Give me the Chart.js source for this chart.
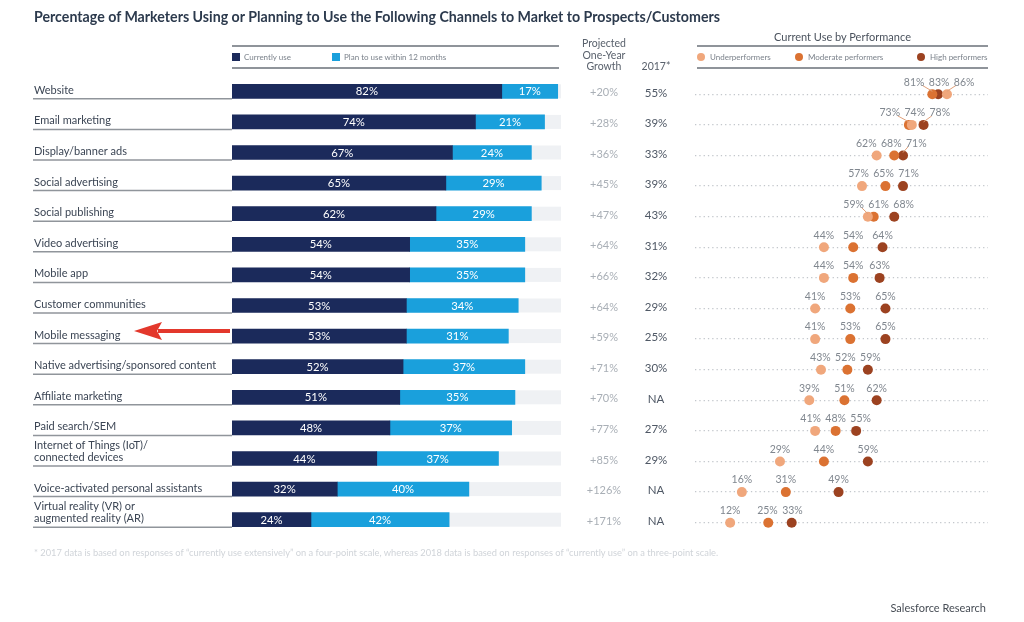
<!DOCTYPE html>
<html>
<head>
<meta charset="utf-8">
<script src="https://cdn.jsdelivr.net/npm/chart.js@4.4.1/dist/chart.umd.min.js"></script>
<style>
  body { margin: 0; background: #fff; font-family: Lato, "Open Sans", sans-serif; }
  #wrap { position: relative; width: 1024px; height: 622px; overflow: hidden; }
  canvas { position: absolute; left: 0; top: 0; }
  .abs { position: absolute; white-space: nowrap; }
  .title { left: 34px; top: 8px; font-size: 14.2px; font-weight: bold; color: #2c3a4d; }
  .rule { position: absolute; height: 2px; background: #8f949a; }
  .leg { font-size: 8px; color: #7b828b; line-height: 10px; }
  .sq { display: inline-block; width: 8px; height: 8px; vertical-align: -1px; margin-right: 4px; }
  .dot { display: inline-block; width: 8px; height: 8px; border-radius: 50%; vertical-align: -1px; margin-right: 5px; }
  .colhead { font-size: 10.5px; color: #59616c; text-align: center; line-height: 11.5px; }
  .note { left: 34px; top: 547px; font-size: 9.3px; color: #d0d4d9; }
  .source { right: 38px; top: 601px; font-size: 11px; color: #474d55; }
</style>
</head>
<body>
<div id="wrap">
  <canvas id="bars" width="1024" height="622"></canvas>
  <canvas id="dots" width="1024" height="622"></canvas>

  <div class="abs title">Percentage of Marketers Using or Planning to Use the Following Channels to Market to Prospects/Customers</div>

  <div class="rule" style="left:232px;top:45px;width:327px"></div>
  <div class="abs leg" style="left:232px;top:52px"><span class="sq" style="background:#1b2a5b"></span>Currently use</div>
  <div class="abs leg" style="left:332px;top:52px"><span class="sq" style="background:#1aa0dc"></span>Plan to use within 12 months</div>
  <div class="rule" style="left:232px;top:67px;width:327px"></div>

  <div class="abs colhead" style="left:574px;top:38px;width:60px">Projected<br>One-Year<br>Growth</div>
  <div class="abs colhead" style="left:630px;top:61px;width:52px">2017*</div>

  <div class="abs" style="left:697px;top:30px;width:291px;text-align:center;font-size:11px;color:#4a525d">Current Use by Performance</div>
  <div class="rule" style="left:697px;top:45px;width:291px"></div>
  <div class="abs leg" style="left:697px;top:52px"><span class="dot" style="background:#f0a77c"></span>Underperformers</div>
  <div class="abs leg" style="left:795px;top:52px"><span class="dot" style="background:#db7232"></span>Moderate performers</div>
  <div class="abs leg" style="left:917px;top:52px"><span class="dot" style="background:#9c4220"></span>High performers</div>
  <div class="rule" style="left:697px;top:67px;width:291px"></div>

  <div class="abs note">* 2017 data is based on responses of “currently use extensively” on a four-point scale, whereas 2018 data is based on responses of “currently use” on a three-point scale.</div>
  <div class="abs source">Salesforce Research</div>
</div>

<script>
// channels, top to bottom
const categories = [
    "Website", "Email marketing", "Display/banner ads", "Social advertising", "Social publishing",
    "Video advertising", "Mobile app", "Customer communities", "Mobile messaging",
    "Native advertising/sponsored content", "Affiliate marketing", "Paid search/SEM",
    "Internet of Things (IoT)/\nconnected devices", "Voice-activated personal assistants",
    "Virtual reality (VR) or\naugmented reality (AR)"
];
const currentUse = [82, 74, 67, 65, 62, 54, 54, 53, 53, 52, 51, 48, 44, 32, 24];
const planToUse = [17, 21, 24, 29, 29, 35, 35, 34, 31, 37, 35, 37, 37, 40, 42];
const projectedGrowth = [20, 28, 36, 45, 47, 64, 66, 64, 59, 71, 70, 77, 85, 126, 171];
const use2017 = [55, 39, 33, 39, 43, 31, 32, 29, 25, 30, null, 27, 29, null, null];

// current use by performance
const underperformers = [86, 74, 62, 57, 59, 44, 44, 41, 41, 43, 39, 41, 29, 16, 12];
const moderatePerformers = [81, 73, 68, 65, 61, 54, 54, 53, 53, 52, 51, 48, 44, 31, 25];
const highPerformers = [83, 78, 71, 71, 68, 64, 63, 65, 65, 59, 62, 55, 59, 49, 33];

const highlighted = "Mobile messaging";
const FONT = "Lato, 'Open Sans', sans-serif";

// --- bar part: track, value labels, row labels, growth and 2017 columns, arrow
const barExtras = {
    id: "barExtras",
    beforeDatasetsDraw(chart) {
        const ctx = chart.ctx, x = chart.scales.x, y = chart.scales.y;
        ctx.save();
        ctx.fillStyle = "#eff1f4";
        categories.forEach((c, i) => {
            const cy = y.getPixelForValue(i);
            ctx.fillRect(x.getPixelForValue(0), cy - 7, x.getPixelForValue(100) - x.getPixelForValue(0), 14);
        });
        ctx.restore();
    },
    afterDatasetsDraw(chart) {
        const ctx = chart.ctx, y = chart.scales.y, x = chart.scales.x;
        ctx.save();

        // values inside the bars
        ctx.font = "11.3px " + FONT;
        ctx.fillStyle = "#ffffff";
        ctx.textAlign = "center";
        ctx.textBaseline = "middle";
        [0, 1].forEach(d => {
            chart.getDatasetMeta(d).data.forEach((bar, i) => {
                const v = chart.data.datasets[d].data[i];
                ctx.fillText(v + "%", (bar.x + bar.base) / 2, bar.y + 0.5);
            });
        });

        categories.forEach((c, i) => {
            const cy = y.getPixelForValue(i);

            // row label with underline
            const lines = c.split("\n");
            ctx.font = "11px " + FONT;
            ctx.fillStyle = "#3b4554";
            ctx.textAlign = "left";
            lines.forEach((t, k) => {
                ctx.fillText(t, 34, cy - 1 - (lines.length - 1 - k) * 12);
            });
            ctx.strokeStyle = "#90959b";
            ctx.lineWidth = 1.5;
            ctx.beginPath();
            ctx.moveTo(33, cy + 7.5);
            ctx.lineTo(x.getPixelForValue(0), cy + 7.5);
            ctx.stroke();

            // projected growth and 2017
            ctx.textAlign = "center";
            ctx.font = "11px " + FONT;
            ctx.fillStyle = "#a9afb6";
            ctx.fillText("+" + projectedGrowth[i] + "%", 604, cy + 1.5);
            ctx.font = "11.5px " + FONT;
            ctx.fillStyle = "#4f5865";
            ctx.fillText(use2017[i] === null ? "NA" : use2017[i] + "%", 656, cy + 1.5);
        });

        // red arrow pointing at the highlighted row
        const ay = y.getPixelForValue(categories.indexOf(highlighted)) - 5;
        const tail = x.getPixelForValue(0) - 2;
        ctx.strokeStyle = "#e3382c";
        ctx.fillStyle = "#e3382c";
        ctx.lineWidth = 4;
        ctx.beginPath();
        ctx.moveTo(tail, ay);
        ctx.lineTo(158, ay);
        ctx.stroke();
        ctx.beginPath();
        ctx.moveTo(134, ay);
        ctx.lineTo(162, ay - 9);
        ctx.lineTo(157, ay);
        ctx.lineTo(162, ay + 9);
        ctx.closePath();
        ctx.fill();

        ctx.restore();
    }
};

new Chart(document.getElementById("bars"), {
    type: "bar",
    data: {
        labels: categories,
        datasets: [
            { label: "Currently use", data: currentUse, backgroundColor: "#1b2a5b", barThickness: 14 },
            { label: "Plan to use within 12 months", data: planToUse, backgroundColor: "#1aa0dc", barThickness: 14 }
        ]
    },
    options: {
        indexAxis: "y",
        responsive: false,
        animation: false,
        events: [],
        layout: { padding: { left: 232, right: 463, top: 76, bottom: 87 } },
        scales: {
            x: { display: false, stacked: true, min: 0, max: 100 },
            y: { display: false, stacked: true }
        },
        plugins: { legend: { display: false }, tooltip: { enabled: false } }
    },
    plugins: [barExtras]
});

// --- dot part: value labels above the dots, pushed apart when they collide
const dotLabels = {
    id: "dotLabels",
    afterDatasetsDraw(chart) {
        const ctx = chart.ctx;
        ctx.save();
        ctx.font = "10.5px " + FONT;
        ctx.fillStyle = "#80878f";
        ctx.strokeStyle = "#e0a07a";
        ctx.lineWidth = 1;
        ctx.textAlign = "center";
        ctx.textBaseline = "middle";
        categories.forEach((c, i) => {
            const pts = chart.data.datasets.map((ds, d) => {
                const el = chart.getDatasetMeta(d).data[i];
                return { x: el.x, y: el.y, v: ds.data[i].x, lx: el.x };
            }).sort((a, b) => a.x - b.x);
            for (let it = 0; it < 30; it++) {
                for (let k = 0; k < pts.length - 1; k++) {
                    const gap = pts[k + 1].lx - pts[k].lx;
                    if (gap < 25) {
                        const d = (25 - gap) / 2;
                        pts[k].lx -= d;
                        pts[k + 1].lx += d;
                    }
                }
            }
            pts.forEach(p => {
                const ly = p.y - 12;
                if (Math.abs(p.lx - p.x) > 12) {
                    ctx.beginPath();
                    ctx.moveTo(p.lx + (p.lx > p.x ? -8 : 8), ly + 3);
                    ctx.lineTo(p.x, p.y - 3);
                    ctx.stroke();
                }
                ctx.fillText(p.v + "%", p.lx, ly);
            });
        });
        ctx.restore();
    }
};

const dotSet = (label, values, color) => ({
    label: label,
    data: categories.map((c, i) => ({ x: values[i], y: c })),
    backgroundColor: color,
    borderWidth: 0,
    pointRadius: 5
});

new Chart(document.getElementById("dots"), {
    type: "scatter",
    data: {
        labels: categories,
        datasets: [
            dotSet("Underperformers", underperformers, "#f0a77c"),
            dotSet("Moderate performers", moderatePerformers, "#db7232"),
            dotSet("High performers", highPerformers, "#9c4220")
        ]
    },
    options: {
        responsive: false,
        animation: false,
        events: [],
        layout: { padding: { left: 695, right: 36, top: 79, bottom: 84 } },
        scales: {
            x: { display: false, min: 0, max: 100 },
            y: {
                type: "category",
                labels: categories,
                offset: true,
                ticks: { display: false },
                afterFit: (scale) => { scale.width = 0; },
                grid: { offset: false, color: "#c3c7cc", lineWidth: 1.3, drawTicks: false },
                border: { display: false, dash: [1.3, 3] }
            }
        },
        plugins: { legend: { display: false }, tooltip: { enabled: false } }
    },
    plugins: [dotLabels]
});
</script>
</body>
</html>
